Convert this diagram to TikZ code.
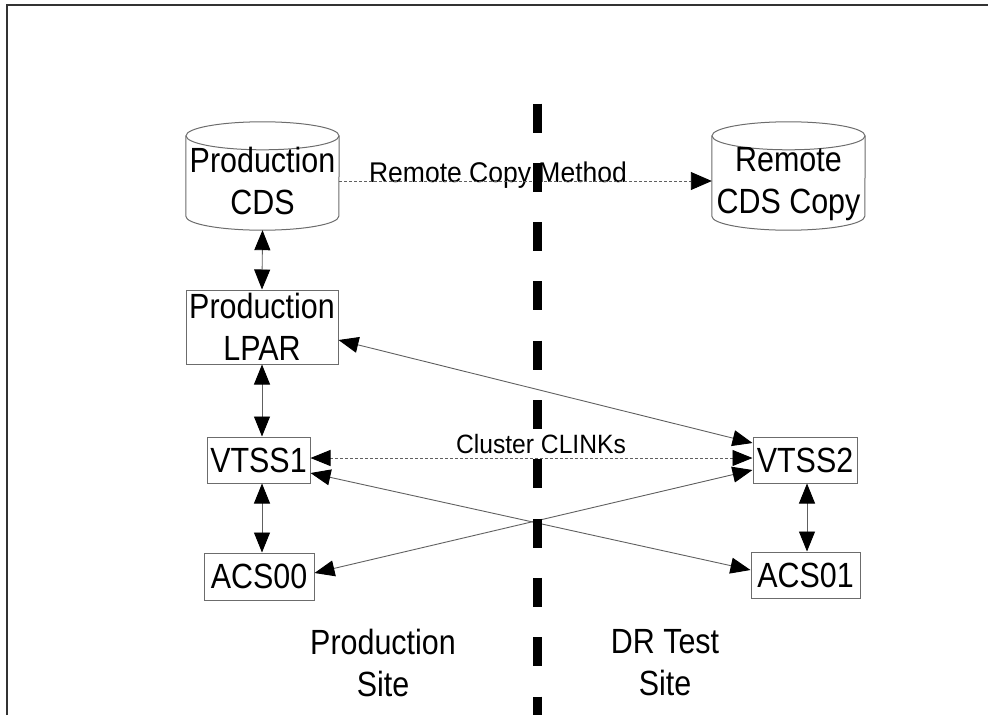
\documentclass[tikz,border=0pt]{standalone}
\usepackage{fontspec}
\setmainfont{Liberation Sans}[FakeStretch=0.87]
\newfontfamily\lblfont{Liberation Sans}[FakeStretch=0.93]
\usetikzlibrary{arrows.meta,calc}
\newcommand\mycyl[1]{%
  \draw[cylline] ([yshift=-14pt]#1.north) ellipse [x radius=76.5pt, y radius=14pt];
  \draw[cylline] ([yshift=-14pt]#1.north west) -- ([yshift=14pt]#1.south west)
     arc[start angle=180, end angle=360, x radius=76.5pt, y radius=14pt]
     -- ([yshift=-14pt]#1.north east);}
\begin{document}
\begin{tikzpicture}[x=1pt,y=-1pt,
  box/.style={draw=gray!85!black, line width=1pt, inner sep=0pt, align=center, font=\fontsize{35}{42}\selectfont},
  cylbody/.style={inner sep=0pt, minimum width=153, minimum height=108},
  cylline/.style={draw=gray!85!black, line width=1pt},
  bigtxt/.style={inner sep=0pt, align=center, font=\fontsize{35}{42}\selectfont},
  lbl/.style={inner sep=0pt, font=\lblfont\fontsize{28.5}{34}\selectfont},
  conn/.style={draw=gray!75!black, line width=0.9pt},
  dbl/.style={conn, arrows={Triangle[length=20pt,width=16pt,color=black]-Triangle[length=20pt,width=16pt,color=black]}},
  sgl/.style={conn, arrows={-Triangle[length=21pt,width=18pt,color=black]}},
  fine/.style={dash pattern=on 3pt off 2pt}
]
\useasboundingbox (0,0) rectangle (988,715);

% frame
\draw[line width=2.5pt, black!80] (7,715) -- (7,5) -- (988,5);

% cylinders
\node[cylbody] (pcds) at (262.5,176) {};
\node[cylbody] (rcds) at (788.5,176) {};
\mycyl{pcds}
\mycyl{rcds}
\node[bigtxt] (pcdstxt) at (262.5,181) {Production\\CDS};
\node[bigtxt] (rcdstxt) at (788.5,184) {Remote\\CDS Copy};

% boxes
\node[box, minimum width=152, minimum height=74] (lpar) at (262,327) {Production\\LPAR};
\node[box, minimum width=103, minimum height=46] (vtss1) at (258.5,460) {VTSS1};
\node[box, minimum width=110, minimum height=47] (acs00) at (259,576.5) {ACS00};
\node[box, minimum width=104, minimum height=46] (vtss2) at (805,460) {VTSS2};
\node[box, minimum width=109, minimum height=46] (acs01) at (805.5,575) {ACS01};

% site labels
\node[bigtxt] (psite) at (383,663) {Production\\Site};
\node[bigtxt] (drsite) at (665,663) {DR Test\\Site};

% small labels
\node[lbl, anchor=base] (rcm) at (498,182) {Remote Copy Method};
\node[lbl, anchor=base, font=\lblfont\fontsize{26.5}{32}\selectfont] (clk) at (541,453) {Cluster CLINKs};

% connectors
\draw[sgl, fine] ([yshift=-5pt]pcds.east) -- ([yshift=-5pt]rcds.west);
\draw[dbl] (pcds.south) -- (lpar.north);
\draw[dbl] (lpar.south) -- (lpar.south |- vtss1.north);
\draw[dbl] (lpar.south |- vtss1.south) -- (lpar.south |- acs00.north);
\draw[dbl] ([xshift=2pt]vtss2.south) -- ([xshift=2pt]vtss2.south |- acs01.north);
\draw[dbl] ([yshift=-13pt]lpar.east) -- ([yshift=17pt]vtss2.west);
\draw[dbl, fine] ([yshift=2pt]vtss1.east) -- ([yshift=2pt]vtss2.west);
\draw[dbl] ([yshift=-13pt]vtss1.east) -- ([yshift=5pt]acs01.west);
\draw[dbl] ([yshift=3.5pt]acs00.east) -- ([yshift=-10pt]vtss2.west);

% site divider
\draw[line width=9pt, black, dash pattern=on 29pt off 30.3pt] (537,103.5) -- (537,715);
\end{tikzpicture}
\end{document}
